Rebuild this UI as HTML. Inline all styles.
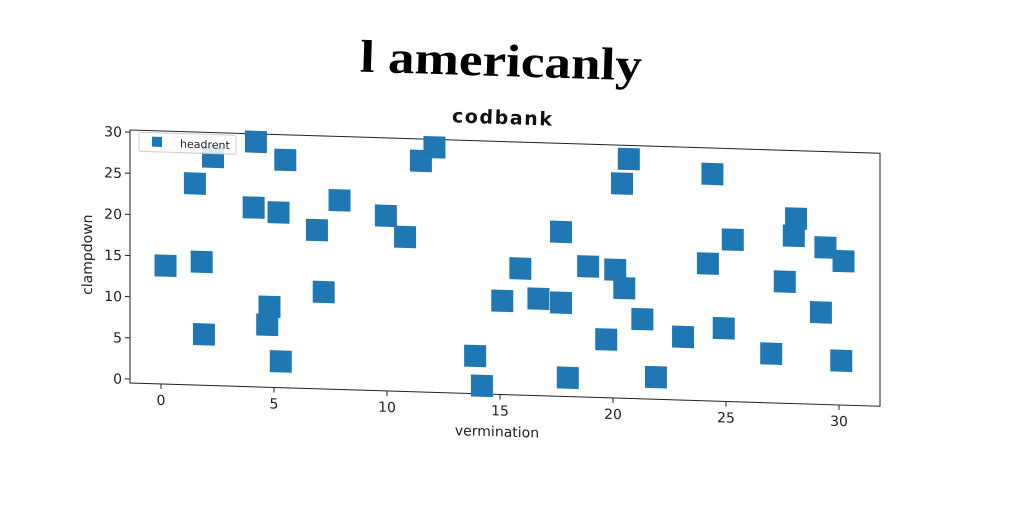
<!DOCTYPE html>
<html><head><meta charset="utf-8"><style>
html,body{margin:0;padding:0;background:#fff;width:1024px;height:512px;overflow:hidden}
svg{display:block}
text{font-family:"DejaVu Sans","Liberation Sans",sans-serif}
</style></head><body>
<svg id="chart" width="1024" height="512">
<text x="501" y="76" text-anchor="middle" font-weight="bold" font-size="46" textLength="282" lengthAdjust="spacingAndGlyphs" transform="rotate(1.8 500 62)" style="font-family:'Liberation Serif',serif">l americanly</text>
<text x="502" y="124" text-anchor="middle" font-size="19" font-weight="bold" fill="#111" textLength="100" transform="rotate(2 502 118)">codbank</text>
<g id="plot" transform="matrix(1 0.031 0 1 0 -4.03)">
<rect x="130" y="130" width="750" height="253" fill="none" stroke="#222" stroke-width="1"/>
<g id="marks"></g>
<g id="xticks"></g><g id="yticks"></g>
<text x="497" y="425" text-anchor="middle" font-size="14" fill="#222">vermination</text>
<text x="92" y="256" text-anchor="middle" font-size="14" fill="#222" transform="rotate(-90 92 256)">clampdown</text>
<g>
<rect x="139" y="132" width="97" height="19" fill="#fff" fill-opacity="0.85" stroke="#ccc" rx="2"/>
<rect x="152" y="136" width="10" height="10" fill="#1f77b4"/>
<text x="180" y="146" font-size="11" fill="#222">headrent</text>
</g>
</g>
</svg>
<script>
const xVals=[0.2,1.5,1.8,1.9,2.3,4.2,4.1,4.8,4.7,5.2,5.5,5.3,6.9,7.2,7.9,9.95,10.8,11.5,12.1,13.9,14.2,15.1,15.9,16.7,17.7,17.7,18.0,18.9,19.7,20.1,20.4,20.5,20.7,21.3,21.9,23.1,24.2,24.4,24.9,25.3,27.0,27.6,28.0,28.1,29.2,29.4,30.2,30.1];
const yVals=[13.9,24,14.5,5.7,27.3,29.3,21.3,9.3,7.1,20.8,27.2,2.7,18.8,11.3,22.5,20.8,18.3,27.6,29.3,4.1,0.5,10.9,14.9,11.3,10.9,19.5,1.8,15.4,6.6,15.1,25.6,12.9,28.6,9.2,2.2,7.2,16.2,27.1,8.4,19.2,5.5,14.3,19.9,22.0,10.7,18.6,17.0,4.9];
const xTicks=[0,5,10,15,20,25,30];
const yTicks=[0,5,10,15,20,25,30];
const NS="http://www.w3.org/2000/svg";
const sx=v=>161+v*22.6, sy=v=>379-v*8.23;
const marks=document.getElementById('marks');
xVals.forEach((x,i)=>{
 const r=document.createElementNS(NS,'rect');
 r.setAttribute('x',sx(x)-11);r.setAttribute('y',sy(yVals[i])-11);
 r.setAttribute('width',22);r.setAttribute('height',22);r.setAttribute('fill','#1f77b4');
 
 
 marks.appendChild(r);
});
const xt=document.getElementById('xticks');
xTicks.forEach(t=>{
 const l=document.createElementNS(NS,'line');
 l.setAttribute('x1',sx(t));l.setAttribute('x2',sx(t));l.setAttribute('y1',383);l.setAttribute('y2',388);l.setAttribute('stroke','#222');
 
 
 xt.appendChild(l);
 const s=document.createElementNS(NS,'text');
 s.setAttribute('x',sx(t));s.setAttribute('y',404);s.setAttribute('text-anchor','middle');s.setAttribute('font-size','14');s.setAttribute('fill','#222');
 s.textContent=t;
 
 
 xt.appendChild(s);
});
const yt=document.getElementById('yticks');
yTicks.forEach(t=>{
 const l=document.createElementNS(NS,'line');
 l.setAttribute('x1',125);l.setAttribute('x2',130);l.setAttribute('y1',sy(t));l.setAttribute('y2',sy(t));l.setAttribute('stroke','#222');
 
 
 yt.appendChild(l);
 const s=document.createElementNS(NS,'text');
 s.setAttribute('x',122);s.setAttribute('y',sy(t)+5);s.setAttribute('text-anchor','end');s.setAttribute('font-size','14');s.setAttribute('fill','#222');
 s.textContent=t;
 
 
 yt.appendChild(s);
});
</script>
</body></html>
